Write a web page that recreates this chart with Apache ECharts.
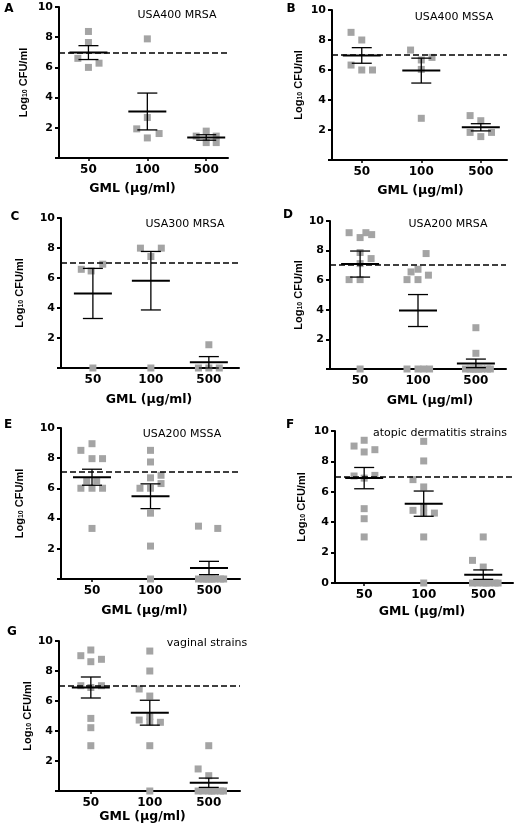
<!DOCTYPE html>
<html><head><meta charset="utf-8">
<script src="https://cdn.jsdelivr.net/npm/echarts@6/dist/echarts.min.js"></script>
<style>html,body{margin:0;padding:0;background:#fff}#c{width:517px;height:829px}</style>
</head><body><div id="c"></div>
<script>
// ---------- data ----------
const categories = ['50', '100', '500'];
const yTickValues = [0, 2, 4, 6, 8, 10];
const panelLetters = ['A', 'B', 'C', 'D', 'E', 'F', 'G'];
const strainTitles = ['USA400 MRSA', 'USA400 MSSA', 'USA300 MRSA', 'USA200 MRSA', 'USA200 MSSA', 'atopic dermatitis strains', 'vaginal strains'];
const thresholds = [7.0, 7.0, 7.05, 7.05, 7.1, 7.0, 7.0];
const xAxisName = 'GML (μg/ml)';

// points: [category position (1,2,3) with jitter, Log10 CFU/ml]
const pointsA = [[1.0,8.38],[1.0,7.65],[0.82,6.6],[1.18,6.28],[1.0,6.0],
  [2.0,7.89],[2.0,2.68],[1.82,1.93],[2.2,1.62],[2.0,1.33],
  [2.83,1.45],[3.0,1.78],[3.17,1.45],[3.0,1.02],[3.17,1.02]];
const meanA = [6.98, 3.08, 1.36];
const semA = [0.46, 1.22, 0.18];

const pointsB = [[0.82,8.51],[1.0,8.0],[0.82,6.33],[1.0,6.0],[1.18,6.0],
  [1.82,7.33],[2.0,6.67],[2.18,6.84],[2.0,6.04],[2.0,2.78],
  [2.82,2.96],[3.0,2.62],[2.82,1.84],[3.18,1.84],[3.0,1.56]];
const meanB = [6.97, 5.96, 2.18];
const semB = [0.52, 0.83, 0.24];

const pointsC = [[0.8,6.58],[0.97,6.47],[1.17,6.92],[1.0,0],
  [1.82,7.99],[2.18,7.99],[2.0,7.43],[2.0,0],
  [3.0,1.55],[2.82,0],[3.0,0],[3.18,0]];
const meanC = [4.97, 5.82, 0.38];
const semC = [1.67, 1.95, 0.38];

const pointsD = [[0.81,9.21],[1.0,8.88],[1.1,9.21],[1.2,9.08],[1.0,7.87],[1.19,7.46],[1.0,7.12],[0.81,6.04],[1.0,6.04],[1.0,0],
  [2.14,7.8],[1.88,6.56],[2.0,6.74],[1.81,6.04],[2.0,6.04],[2.18,6.34],[1.81,0],[2.0,0],[2.1,0],[2.2,0],
  [3.0,2.79],[3.0,1.06],[2.82,0],[2.9,0],[2.95,0],[3.0,0],[3.05,0],[3.1,0],[3.2,0],[3.25,0]];
const meanD = [7.09, 3.95, 0.38];
const semD = [0.88, 1.08, 0.29];

const pointsE = [[0.81,8.52],[1.0,8.96],[1.0,7.97],[1.18,7.97],[0.91,6.48],[1.08,6.52],[0.81,6.01],[1.0,6.01],[1.18,6.01],[1.0,3.35],
  [2.0,8.52],[2.0,7.75],[2.18,6.87],[2.0,6.7],[2.18,6.32],[1.82,6.01],[2.0,6.01],[2.0,4.36],[2.0,2.18],[2.0,0],
  [2.82,3.5],[3.15,3.35],[2.82,0],[2.9,0],[2.95,0],[3.0,0],[3.05,0],[3.1,0],[3.2,0],[3.25,0]];
const meanE = [6.74, 5.48, 0.73];
const semE = [0.53, 0.82, 0.44];

const pointsF = [[0.83,9.01],[1.0,9.39],[1.0,8.62],[1.18,8.77],[0.83,7.04],[1.0,6.9],[1.18,7.08],[1.0,4.89],[1.0,4.23],[1.0,3.03],
  [2.0,9.32],[2.0,8.03],[1.82,6.8],[2.0,6.32],[1.82,4.78],[2.0,5.0],[2.18,4.6],[2.0,4.6],[2.0,3.03],[2.0,0],
  [3.0,3.03],[2.82,1.49],[3.0,1.05],[2.82,0],[2.9,0],[3.0,0],[3.05,0],[3.1,0],[3.2,0],[3.25,0]];
const meanF = [6.9, 5.22, 0.55];
const semF = [0.7, 0.83, 0.31];

const pointsG = [[0.83,9.02],[1.0,9.4],[1.0,8.62],[1.18,8.78],[0.83,7.02],[1.0,6.9],[1.18,7.02],[1.0,4.84],[1.0,4.22],[1.0,3.02],
  [2.0,9.33],[2.0,8.0],[1.82,6.8],[2.0,6.33],[1.82,4.73],[2.0,4.96],[2.18,4.58],[2.0,4.6],[2.0,3.02],[2.0,0],
  [3.0,3.02],[2.82,1.47],[3.0,1.02],[2.82,0],[2.9,0],[3.0,0],[3.05,0],[3.1,0],[3.2,0],[3.25,0]];
const meanG = [6.9, 5.22, 0.55];
const semG = [0.7, 0.83, 0.31];

const allPoints = [pointsA, pointsB, pointsC, pointsD, pointsE, pointsF, pointsG];
const allMeans = [meanA, meanB, meanC, meanD, meanE, meanF, meanG];
const allSems = [semA, semB, semC, semD, semE, semF, semG];

// ---------- layout (pixels) ----------
const layout = [
  {l:59,  t:7,   r:228, b:158, xMin:0.5,  xMax:3.37, yGap:30, xGap:24, xShift:-11, title:[177,15],  letter:[9,9]},
  {l:332, t:10,  r:507, b:160, xMin:0.5,  xMax:3.44, yGap:28, xGap:24, xShift:1,   title:[454,17],  letter:[291,9]},
  {l:61,  t:218, r:239, b:368, xMin:0.45, xMax:3.52, yGap:36, xGap:25, xShift:-1,  title:[185,224], letter:[15,217]},
  {l:330, t:221, r:506, b:369, xMin:0.48, xMax:3.52, yGap:26, xGap:25, xShift:12,  title:[448,224], letter:[288,215]},
  {l:61,  t:428, r:240, b:579, xMin:0.47, xMax:3.53, yGap:36, xGap:25, xShift:-6,  title:[182,434], letter:[8,425]},
  {l:335, t:431, r:513, b:583, xMin:0.51, xMax:3.5,  yGap:28, xGap:22, xShift:-2,  title:[440,433], letter:[290,425]},
  {l:59,  t:641, r:240, b:791, xMin:0.46, xMax:3.53, yGap:26, xGap:18, xShift:-7,  title:[207,643], letter:[12,632]}
];
const showZeroLabel = [false,false,false,false,false,true,false];

const WIDE = '"DejaVu Sans", sans-serif';
const ARIAL = '"Liberation Sans", Arial, sans-serif';
const grey = '#a4a4a4';

function renderMean(params, api) {
  const x = api.value(0), m = api.value(1), s = api.value(2);
  const c = api.coord([x, m]);
  const top = api.coord([x, m + s]);
  const bot = api.coord([x, Math.max(m - s, 0)]);
  const lw = 19, cw = 10;
  return {type: 'group', children: [
    {type:'line', shape:{x1:c[0]-lw, y1:c[1], x2:c[0]+lw, y2:c[1]}, style:{stroke:'#000', lineWidth:2}},
    {type:'line', shape:{x1:c[0], y1:top[1], x2:c[0], y2:bot[1]}, style:{stroke:'#000', lineWidth:1.3}},
    {type:'line', shape:{x1:c[0]-cw, y1:top[1], x2:c[0]+cw, y2:top[1]}, style:{stroke:'#000', lineWidth:1.3}},
    {type:'line', shape:{x1:c[0]-cw, y1:bot[1], x2:c[0]+cw, y2:bot[1]}, style:{stroke:'#000', lineWidth:1.3}}
  ]};
}

const grids = [], xAxes = [], yAxes = [], series = [], graphics = [];
layout.forEach((p, i) => {
  grids.push({left: p.l, top: p.t, width: p.r - p.l, height: p.b - p.t});
  const pad = p.xShift < 0 ? [0, -2 * p.xShift, 0, 0] : [0, 0, 0, 2 * p.xShift];
  xAxes.push({
    type: 'value', gridIndex: i, min: p.xMin, max: p.xMax,
    splitLine: {show: false},
    axisLine: {show: true, lineStyle: {color: '#000', width: 2}},
    axisTick: {show: true, customValues: [1, 2, 3], length: 3, lineStyle: {color: '#000', width: 1.5}},
    axisLabel: {customValues: [1, 2, 3], formatter: v => categories[Math.round(v) - 1] || '',
      fontFamily: WIDE, fontWeight: 'bold', fontSize: 12, color: '#000', margin: 6},
    name: xAxisName, nameLocation: 'middle', nameGap: p.xGap,
    nameTextStyle: {fontFamily: WIDE, fontWeight: 'bold', fontSize: 12.5, color: '#000', padding: pad}
  });
  yAxes.push({
    type: 'value', gridIndex: i, min: 0, max: 10, interval: 2,
    splitLine: {show: false},
    axisLine: {show: true, lineStyle: {color: '#000', width: 2}},
    axisTick: {show: true, length: 4, lineStyle: {color: '#000', width: 2}},
    axisLabel: {fontFamily: WIDE, fontWeight: 'bold', fontSize: 11, color: '#000', margin: 6,
      formatter: v => (v === 0 && !showZeroLabel[i]) ? '' : String(v)},
    name: 'Log{sub|10} CFU/ml', nameLocation: 'middle', nameGap: p.yGap, nameRotate: 90,
    nameTextStyle: {fontFamily: ARIAL, fontWeight: 'bold', fontSize: 11, color: '#000',
      rich: {sub: {fontFamily: ARIAL, fontWeight: 'bold', fontSize: 7, verticalAlign: 'bottom', lineHeight: 8, color: '#000'}}}
  });
  series.push({
    type: 'scatter', xAxisIndex: i, yAxisIndex: i, data: allPoints[i],
    symbol: 'rect', symbolSize: 7, itemStyle: {color: grey, opacity: 1}, clip: false, z: 2,
    markLine: {silent: true, symbol: 'none', animation: false, z: 3,
      label: {show: false}, lineStyle: {type: [6, 3], color: '#000', width: 1.5},
      data: [{yAxis: thresholds[i]}]}
  });
  series.push({
    type: 'custom', xAxisIndex: i, yAxisIndex: i, z: 4, clip: false,
    data: categories.map((c, k) => [k + 1, allMeans[i][k], allSems[i][k]]),
    renderItem: renderMean
  });
  graphics.push({type: 'text', x: p.title[0], y: p.title[1],
    style: {text: strainTitles[i], font: '11px ' + WIDE, fill: '#000', textAlign: 'center', textVerticalAlign: 'middle'}});
  graphics.push({type: 'text', x: p.letter[0], y: p.letter[1],
    style: {text: panelLetters[i], font: 'bold 12px ' + WIDE, fill: '#000', textAlign: 'center', textVerticalAlign: 'middle'}});
});

const chart = echarts.init(document.getElementById('c'), null, {renderer: 'canvas'});
chart.setOption({
  animation: false,
  backgroundColor: '#fff',
  grid: grids, xAxis: xAxes, yAxis: yAxes, series: series, graphic: graphics
});
</script>
</body></html>
